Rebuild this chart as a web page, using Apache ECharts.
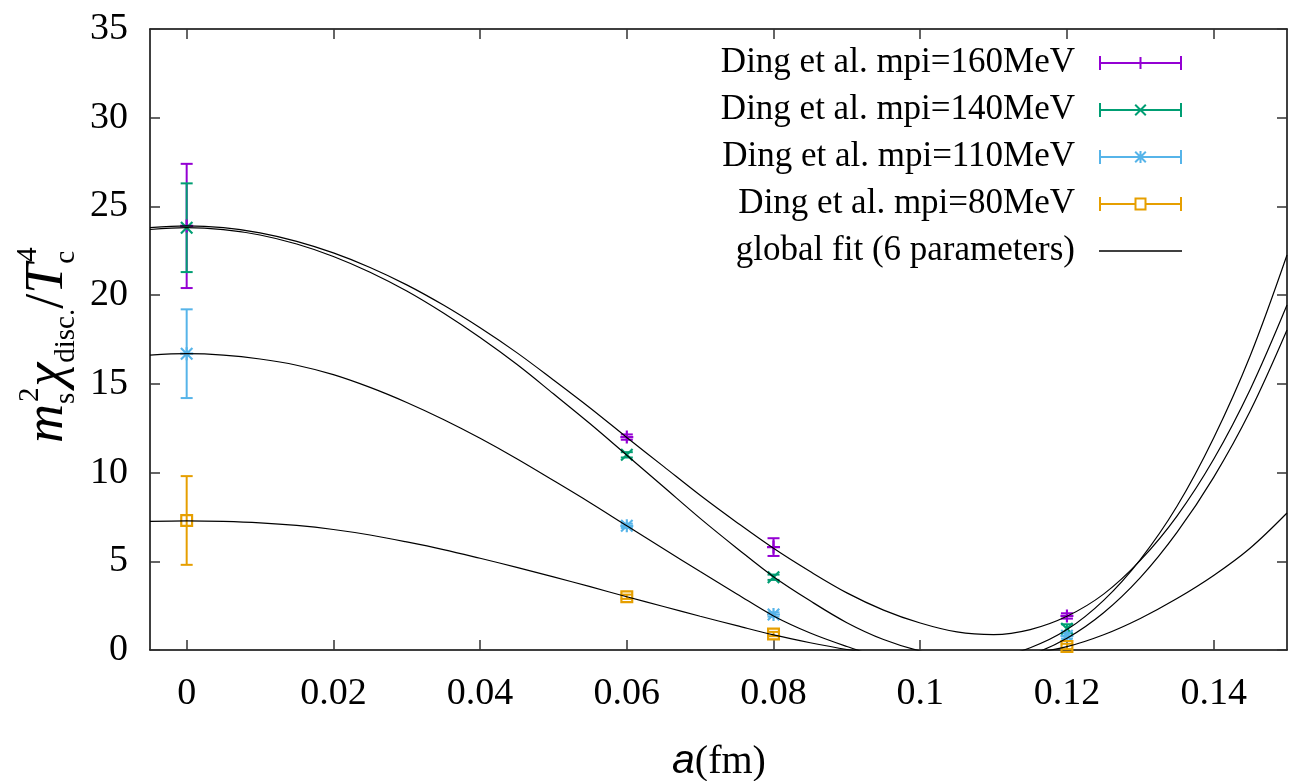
<!DOCTYPE html>
<html>
<head>
<meta charset="utf-8">
<script src="https://cdn.jsdelivr.net/npm/echarts@6/dist/echarts.min.js"></script>
<style>
html, body { margin: 0; padding: 0; background: #ffffff; }
#chart { width: 1294px; height: 781px; }
</style>
</head>
<body>
<div id="chart"></div>
<script>
// ---------------- data ----------------
const seriesNames = ['Ding et al. mpi=160MeV', 'Ding et al. mpi=140MeV', 'Ding et al. mpi=110MeV', 'Ding et al. mpi=80MeV'];
const fitName = 'global fit (6 parameters)';

const aPoints = [0, 0.06, 0.08, 0.12];
const chi160 = [23.9, 12.0, 5.8, 1.92];
const err160 = [3.5, 0.15, 0.5, 0.15];
const chi140 = [23.8, 11.0, 4.1, 1.2];
const err140 = [2.5, 0.15, 0.15, 0.25];
const chi110 = [16.7, 7.0, 2.0, 0.8];
const err110 = [2.5, 0.12, 0.12, 0.15];
const chi80 = [7.3, 3.0, 0.9, 0.2];
const err80 = [2.5, 0.12, 0.12, 0.15];

// fit curves every 0.005 in a
const fitA = [-0.005, 0, 0.005, 0.01, 0.015, 0.02, 0.025, 0.03, 0.035, 0.04, 0.045, 0.05, 0.055, 0.06, 0.065, 0.07,
              0.075, 0.08, 0.085, 0.09, 0.095, 0.1, 0.105, 0.11, 0.115, 0.12, 0.125, 0.13, 0.135, 0.14, 0.145, 0.15];
const fit160 = [23.8, 23.9, 23.8, 23.51, 23.03, 22.38, 21.56, 20.58, 19.44, 18.16, 16.76, 15.22, 13.64, 11.98, 10.35, 8.72,
                7.19, 5.73, 4.42, 3.22, 2.25, 1.52, 1.02, 0.87, 1.15, 1.9, 3.15, 5.05, 7.55, 10.75, 14.7, 19.44];
const fit140 = [23.7, 23.8, 23.69, 23.39, 22.88, 22.18, 21.29, 20.23, 18.99, 17.61, 16.1, 14.44, 12.75, 10.98, 9.2, 7.42,
                5.74, 4.13, 2.77, 1.54, 0.59, -0.06, -0.43, -0.4, 0.13, 1.15, 2.8, 5.1, 8.1, 11.95, 16.6, 22.26];
const fit110 = [16.62, 16.7, 16.62, 16.4, 16.05, 15.52, 14.8, 13.95, 12.99, 11.93, 10.78, 9.55, 8.3, 7.0, 5.71, 4.42,
                3.16, 1.92, 0.96, 0.2, -0.46, -0.86, -0.97, -0.79, -0.28, 0.66, 2.1, 4.08, 6.63, 9.73, 13.48, 18.03];
const fit80  = [7.25, 7.28, 7.25, 7.17, 7.02, 6.79, 6.48, 6.09, 5.66, 5.17, 4.66, 4.12, 3.57, 3.0, 2.45, 1.9,
                1.37, 0.85, 0.41, 0.03, -0.26, -0.44, -0.48, -0.4, -0.19, 0.19, 0.86, 1.78, 2.9, 4.2, 5.75, 7.72];

const xTicks = [0, 0.02, 0.04, 0.06, 0.08, 0.1, 0.12, 0.14];
const xTickLabels = ['0', '0.02', '0.04', '0.06', '0.08', '0.1', '0.12', '0.14'];
const yTicks = [0, 5, 10, 15, 20, 25, 30, 35];
const yTickLabels = ['0', '5', '10', '15', '20', '25', '30', '35'];

// ---------------- styles ----------------
const colors = ['#9400d3', '#009e73', '#56b4e9', '#e69f00'];
const SERIF = '"Liberation Serif", "Times New Roman", serif';

const markerPaths = [
  'path://M5,0 L7,0 L7,5 L12,5 L12,7 L7,7 L7,12 L5,12 L5,7 L0,7 L0,5 L5,5 Z',
  'path://M0,1.4 L1.4,0 L12,10.6 L10.6,12 Z M10.6,0 L12,1.4 L1.4,12 L0,10.6 Z',
  'path://M0,1.4 L1.4,0 L12,10.6 L10.6,12 Z M10.6,0 L12,1.4 L1.4,12 L0,10.6 Z M5,0 L7,0 L7,12 L5,12 Z M0,5 L12,5 L12,7 L0,7 Z',
  'path://M0,0 L12,0 L12,12 L0,12 Z M2,2 L2,10 L10,10 L10,2 Z'
];
const barFull = 'M0,6 L83,6 L83,8 L0,8 Z ';
const caps = 'M0,0 L2,0 L2,14 L0,14 Z M81,0 L83,0 L83,14 L81,14 Z ';
const legendIcons = [
  'path://' + barFull + caps + 'M40.5,1 L42.5,1 L42.5,13 L40.5,13 Z',
  'path://' + barFull + caps + 'M35.5,2.4 L36.9,1 L47.5,11.6 L46.1,13 Z M46.1,1 L47.5,2.4 L36.9,13 L35.5,11.6 Z',
  'path://' + barFull + caps + 'M35.5,2.4 L36.9,1 L47.5,11.6 L46.1,13 Z M46.1,1 L47.5,2.4 L36.9,13 L35.5,11.6 Z M40.5,1 L42.5,1 L42.5,13 L40.5,13 Z',
  'path://M0,6 L35.5,6 L35.5,8 L0,8 Z M47.5,6 L83,6 L83,8 L47.5,8 Z ' + caps + 'M35.5,0.5 L47.5,0.5 L47.5,13.5 L35.5,13.5 Z M37.5,2.5 L37.5,11.5 L45.5,11.5 L45.5,2.5 Z'
];
const fitIcon = 'path://M0,0 L83,0 L83,1.3 L0,1.3 Z';

const chiSets = [chi160, chi140, chi110, chi80];
const errSets = [err160, err140, err110, err80];
const fitSets = [fit160, fit140, fit110, fit80];

function errRender(color) {
  return function (params, api) {
    const x = api.value(0), y = api.value(1), e = api.value(2);
    const top = api.coord([x, y + e]);
    const bot = api.coord([x, y - e]);
    const hw = 6;
    const st = { stroke: color, lineWidth: 2, fill: null };
    return {
      type: 'group',
      children: [
        { type: 'line', shape: { x1: top[0], y1: top[1], x2: bot[0], y2: bot[1] }, style: st },
        { type: 'line', shape: { x1: top[0] - hw, y1: top[1], x2: top[0] + hw, y2: top[1] }, style: st },
        { type: 'line', shape: { x1: bot[0] - hw, y1: bot[1], x2: bot[0] + hw, y2: bot[1] }, style: st }
      ]
    };
  };
}

const series = [];
for (let i = 0; i < 4; i++) {
  series.push({
    name: seriesNames[i],
    type: 'custom',
    renderItem: errRender(colors[i]),
    itemStyle: { color: colors[i] },
    encode: { x: 0, y: 1 },
    data: aPoints.map((a, k) => [a, chiSets[i][k], errSets[i][k]]),
    z: 2,
    silent: true
  });
  series.push({
    name: seriesNames[i],
    type: 'scatter',
    symbol: markerPaths[i],
    symbolSize: 13,
    itemStyle: { color: colors[i], opacity: 1 },
    data: aPoints.map((a, k) => [a, chiSets[i][k]]),
    z: 3,
    silent: true
  });
}
for (let i = 0; i < 4; i++) {
  series.push({
    name: fitName,
    type: 'line',
    showSymbol: false,
    symbol: 'none',
    smooth: 0.35,
    clip: true,
    lineStyle: { color: '#000000', width: 1.2 },
    itemStyle: { color: '#000000' },
    data: fitA.map((a, k) => [a, fitSets[i][k]]),
    z: 5,
    silent: true
  });
}

// ---------------- y axis label (rotated, with sub/superscripts) ----------------
const ctx = document.createElement('canvas').getContext('2d');
function tw(text, size, italic) {
  ctx.font = (italic ? 'italic ' : '') + size + 'px ' + SERIF;
  return ctx.measureText(text).width;
}
const F = 54, f = 29;
const pieces = [];
let px = 0;
pieces.push({ t: 'm', s: F, it: true, x: px, b: 0 });
px += tw('m', F, true);
pieces.push({ t: 's', s: f, it: false, x: px, b: 10 });
pieces.push({ t: '2', s: f, it: false, x: px + 2, b: -26 });
px += Math.max(tw('s', f, false), tw('2', f, false) + 2) + 1;
pieces.push({ t: 'χ', s: F, it: true, x: px, b: 0 });
px += tw('χ', F, true);
pieces.push({ t: 'disc.', s: f, it: false, x: px, b: 10 });
px += tw('disc.', f, false);
pieces.push({ t: '/', s: F, it: false, x: px, b: 0 });
px += tw('/', F, false);
pieces.push({ t: 'T', s: F, it: true, x: px, b: 0 });
px += tw('T', F, true);
pieces.push({ t: 'c', s: f, it: false, x: px, b: 10 });
pieces.push({ t: '4', s: f, it: false, x: px + 2, b: -28 });
px += Math.max(tw('c', f, false), tw('4', f, false) + 2);
const labelLen = px;
const targetLen = 214;
const sx = Math.min(1, targetLen / labelLen);

const yLabelGroup = {
  type: 'group',
  x: 66,
  y: 443,
  rotation: Math.PI / 2,
  scaleX: sx,
  children: pieces.map(p => ({
    type: 'text',
    x: p.x,
    y: p.b - 0.34 * p.s,
    style: {
      text: p.t,
      font: (p.it ? 'italic ' : '') + p.s + 'px ' + SERIF,
      fill: '#000000',
      align: 'left',
      verticalAlign: 'middle'
    }
  }))
};

const xLabel = {
  type: 'text',
  x: 719,
  y: 762,
  style: {
    text: '{a|a}{b|(fm)}',
    align: 'center',
    verticalAlign: 'middle',
    rich: {
      a: { fontFamily: '"Liberation Sans", Arial, sans-serif', fontStyle: 'italic', fontSize: 41, fill: '#000' },
      b: { fontFamily: SERIF, fontSize: 40, fill: '#000' }
    }
  }
};

const axisLineStyle = { color: '#000000', width: 1.5 };
const tickStyle = { color: '#333333', width: 1.5 };

const option = {
  backgroundColor: '#ffffff',
  animation: false,
  grid: { left: 150, top: 29, right: 7, bottom: 131, containLabel: false, outerBoundsMode: 'none' },
  legend: {
    orient: 'vertical',
    right: 112,
    top: 43,
    padding: 0,
    align: 'right',
    itemWidth: 83,
    itemHeight: 14,
    itemGap: 7,
    selectedMode: false,
    textStyle: { fontFamily: SERIF, fontSize: 35, color: '#000000', width: 380, lineHeight: 40, padding: [0, 19, 0, 0] },
    data: [
      { name: seriesNames[0], icon: legendIcons[0] },
      { name: seriesNames[1], icon: legendIcons[1] },
      { name: seriesNames[2], icon: legendIcons[2] },
      { name: seriesNames[3], icon: legendIcons[3] },
      { name: fitName, icon: fitIcon }
    ]
  },
  xAxis: [
    {
      type: 'value', min: -0.005, max: 0.15, position: 'bottom',
      axisLine: { show: true, onZero: false, lineStyle: axisLineStyle },
      axisTick: { show: true, inside: true, length: 10, customValues: xTicks, lineStyle: tickStyle },
      axisLabel: {
        show: true, customValues: xTicks, margin: 25,
        fontFamily: SERIF, fontSize: 38, color: '#000000',
        formatter: v => { const k = xTicks.findIndex(t => Math.abs(t - v) < 1e-9); return k >= 0 ? xTickLabels[k] : ''; }
      },
      splitLine: { show: false }
    },
    {
      type: 'value', min: -0.005, max: 0.15, position: 'top',
      axisLine: { show: true, onZero: false, lineStyle: axisLineStyle },
      axisTick: { show: true, inside: true, length: 10, customValues: xTicks, lineStyle: tickStyle },
      axisLabel: { show: false },
      splitLine: { show: false }
    }
  ],
  yAxis: [
    {
      type: 'value', min: 0, max: 35, interval: 5, position: 'left',
      axisLine: { show: true, onZero: false, lineStyle: axisLineStyle },
      axisTick: { show: true, inside: true, length: 10, lineStyle: tickStyle },
      axisLabel: {
        show: true, margin: 22, fontFamily: SERIF, fontSize: 38, color: '#000000',
        formatter: v => { const k = yTicks.indexOf(v); return k >= 0 ? yTickLabels[k] : ''; }
      },
      splitLine: { show: false }
    },
    {
      type: 'value', min: 0, max: 35, interval: 5, position: 'right',
      axisLine: { show: true, onZero: false, lineStyle: axisLineStyle },
      axisTick: { show: true, inside: true, length: 10, lineStyle: tickStyle },
      axisLabel: { show: false },
      splitLine: { show: false }
    }
  ],
  graphic: [yLabelGroup, xLabel],
  series: series
};

const chart = echarts.init(document.getElementById('chart'), null, { renderer: 'canvas' });
chart.setOption(option);
</script>
</body>
</html>
